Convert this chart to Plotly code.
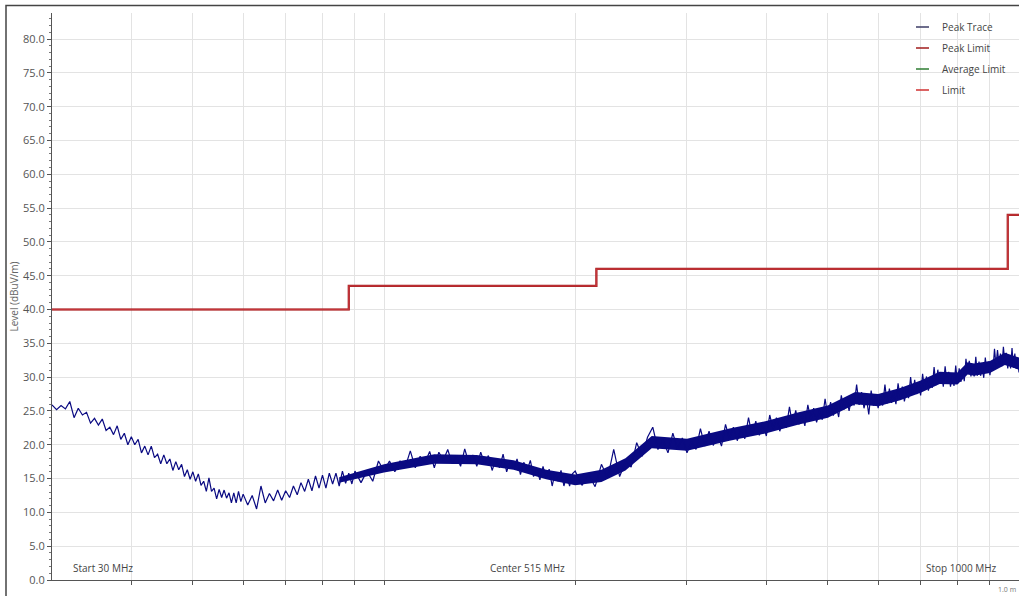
import math
import plotly.graph_objects as go

# ---------------- data ----------------
# sweep grid (MHz) of the peak trace
trace_freq_mhz = ([30 + 0.5 * i for i in range(60)] + list(range(60, 90))
                  + list(range(90, 200, 2)) + list(range(200, 1001, 5)))

trace_level_a = [  # 30.0..59.5 MHz, step 0.5
    25.9, 25.2, 25.8, 25.3, 26.4, 24.0, 25.4, 24.4, 24.8, 23.2,
    23.9, 22.9, 23.8, 22.1, 22.6, 21.5, 22.8, 20.8, 21.7, 20.0,
    21.2, 20.0, 20.8, 18.8, 19.8, 18.5, 19.8, 18.1, 18.6, 17.2,
    18.5, 17.2, 17.9, 16.2, 17.5, 16.3, 17.1, 15.3, 16.3, 14.9,
    16.0, 14.6, 15.7, 14.0, 14.6, 13.1, 15.1, 13.1, 13.6, 12.0,
    13.4, 12.2, 13.3, 12.1, 12.9, 11.4, 12.9, 11.4, 13.1, 11.6,
]
trace_level_b = [  # 60..89 MHz, step 1
    12.7, 11.1, 12.5, 10.5, 13.9, 11.4, 12.8, 11.7, 13.3, 11.8,
    13.2, 12.2, 13.9, 12.6, 14.4, 13.1, 14.9, 13.2, 15.4, 13.6,
    15.5, 13.6, 15.8, 14.2, 15.8, 13.9, 16.1, 14.3, 15.8, 14.2,
]
trace_level_c = [  # 90..198 MHz, step 2
    16.1, 14.4, 16.1, 14.6, 17.6, 16.1, 17.6, 16.0, 17.6, 16.7,
    19.1, 16.6, 18.3, 17.3, 19.0, 16.6, 18.9, 17.7, 19.3, 17.2,
    18.4, 16.8, 19.4, 17.3, 18.5, 16.8, 18.9, 17.2, 18.4, 16.2,
    17.9, 16.6, 18.6, 16.0, 17.6, 16.5, 17.9, 15.6, 17.4, 16.2,
    17.7, 15.3, 16.4, 14.8, 16.8, 15.0, 16.4, 13.9, 15.9, 14.6,
    16.2, 13.9, 15.5, 13.9, 15.7,
]
trace_level_d = [  # 200..1000 MHz, step 5
    16.1, 14.0, 15.6, 13.8, 17.1, 15.1, 19.3, 15.3, 17.5, 16.7,
    20.3, 18.3, 21.1, 22.6, 19.3, 20.7, 18.8, 21.7, 19.4, 21.0,
    18.8, 20.5, 19.3, 22.4, 19.8, 22.0, 19.9, 21.6, 19.8, 23.0,
    20.9, 22.6, 20.6, 22.3, 20.9, 24.0, 21.3, 23.5, 21.4, 23.1,
    21.3, 24.4, 22.3, 24.0, 22.0, 23.7, 22.5, 25.6, 22.9, 25.1,
    23.0, 24.6, 22.8, 25.9, 23.7, 25.4, 23.3, 25.0, 23.7, 26.8,
    24.1, 26.3, 24.3, 25.9, 24.1, 27.3, 25.2, 27.0, 25.0, 26.9,
    25.8, 28.9, 25.9, 27.8, 25.4, 26.9, 24.5, 28.0, 25.8, 27.5,
    25.4, 27.1, 25.8, 28.9, 26.1, 28.3, 26.2, 27.8, 26.0, 29.1,
    26.9, 28.6, 26.4, 28.2, 26.9, 30.0, 27.4, 29.6, 27.5, 29.1,
    27.3, 30.5, 28.3, 30.1, 28.0, 29.7, 28.4, 31.5, 28.8, 31.1,
    29.0, 30.5, 28.6, 31.6, 29.2, 30.8, 28.6, 30.1, 28.7, 31.7,
    29.0, 31.3, 29.3, 31.0, 29.4, 32.7, 30.7, 32.4, 30.1, 31.6,
    30.1, 33.0, 30.2, 32.3, 30.2, 31.7, 29.9, 32.9, 30.7, 32.3,
    30.3, 32.2, 31.0, 34.2, 31.7, 34.0, 31.9, 33.5, 31.6, 34.5,
    32.1, 33.6, 31.3, 32.8, 31.3, 34.3, 31.4, 33.5, 31.2, 32.7,
    30.7,
]
trace_level_dbuv = trace_level_a + trace_level_b + trace_level_c + trace_level_d

# dense core of the peak trace
band_freq_mhz = [85, 100, 120, 140, 160, 180, 200, 220, 240, 264, 300, 350, 400,
                 450, 500, 552, 600, 650, 700, 750, 800, 830, 850, 900, 950, 1000]
band_low_dbuv = [14.4, 15.9, 17.2, 17.1, 16.3, 14.9, 14.0, 14.5, 16.2, 19.5, 19.1,
                 20.6, 21.7, 23.0, 24.0, 26.0, 25.7, 26.6, 27.7, 29.0, 28.9, 30.4,
                 30.2, 30.6, 31.8, 31.1]
band_high_dbuv = [15.2, 17.1, 18.6, 18.5, 17.7, 16.3, 15.6, 16.3, 18.0, 21.3, 20.9,
                  22.4, 23.5, 24.8, 25.8, 27.8, 27.5, 28.4, 29.5, 30.8, 30.7, 32.2,
                  32.0, 32.4, 33.6, 32.9]

limit_freq_mhz = [30, 88, 216, 960, 1000]
limit_level_dbuv = [40.0, 43.5, 46.0, 54.0, 54.0]

legend_names = ["Peak Trace", "Peak Limit", "Average Limit", "Limit"]
legend_colors = ["#3c3c66", "#a01c1c", "#2e7d32", "#d03030"]

y_ticks = [0, 5, 10, 15, 20, 25, 30, 35, 40, 45, 50, 55, 60, 65, 70, 75, 80]
x_grid_mhz = [40, 50, 60, 70, 80, 90, 100, 200, 300, 400, 500, 600, 700, 800, 900]
bottom_labels = ["Start 30 MHz", "Center 515 MHz", "Stop 1000 MHz"]

# ---------------- figure ----------------
W, H = 1019, 596
L, R, T, B = 52, 0, 13, 16
PW, PH = W - L - R, H - T - B


def px(x):
    return (x - L) / PW


def py(y):
    return (H - B - y) / PH


navy = "#0a0a82"
fig = go.Figure()

fig.add_trace(go.Scatter(
    x=band_freq_mhz + band_freq_mhz[::-1],
    y=band_high_dbuv + band_low_dbuv[::-1],
    fill="toself", fillcolor=navy, line=dict(width=0),
    mode="lines", showlegend=False, hoverinfo="skip"))

fig.add_trace(go.Scatter(
    x=trace_freq_mhz, y=trace_level_dbuv, mode="lines", name="Peak Trace",
    line=dict(color=navy, width=1.2), showlegend=False))

fig.add_trace(go.Scatter(
    x=limit_freq_mhz, y=limit_level_dbuv, mode="lines", name="Peak Limit",
    line=dict(color="#a01c1c", width=2.2, shape="hv"), showlegend=False))
fig.add_trace(go.Scatter(
    x=[], y=[], mode="lines", name="Average Limit",
    line=dict(color="#2e7d32", width=1.5), showlegend=False))
fig.add_trace(go.Scatter(
    x=limit_freq_mhz, y=limit_level_dbuv, mode="lines", name="Limit",
    line=dict(color="#c4343a", width=1.4, shape="hv"), showlegend=False))

fig.update_xaxes(
    type="log", range=[math.log10(30), math.log10(1000)],
    tickvals=x_grid_mhz, showticklabels=False,
    ticks="outside", ticklen=4, tickcolor="#555",
    showgrid=True, gridcolor="#e3e3e3", gridwidth=1,
    showline=True, linecolor="#555", linewidth=1, zeroline=False)

fig.update_yaxes(
    range=[0, 83.85], tickvals=y_ticks,
    ticktext=[f"{v:.1f}" for v in y_ticks],
    ticks="outside", ticklen=4, tickcolor="#555",
    tickfont=dict(family="Open Sans", size=11, color="#555"),
    minor=dict(dtick=1, ticks="outside", ticklen=2, tickcolor="#777", showgrid=False),
    showgrid=True, gridcolor="#e3e3e3", gridwidth=1,
    showline=True, linecolor="#555", linewidth=1, zeroline=False,
    title=dict(text="Level (dBuV/m)", standoff=2,
               font=dict(family="Open Sans", size=10, color="#666")))

annotations = []
for text, cx in zip(bottom_labels, [103, 527, 961.5]):
    annotations.append(dict(
        x=px(cx), y=py(568), xref="paper", yref="paper", text=text,
        showarrow=False, xanchor="center", yanchor="middle",
        font=dict(family="Open Sans", size=10, color="#444")))
annotations.append(dict(
    x=px(1018), y=py(590), xref="paper", yref="paper", text="1.0 m",
    showarrow=False, xanchor="right", yanchor="middle",
    font=dict(family="Open Sans", size=7, color="#777")))

shapes = []
for name, col, ry in zip(legend_names, legend_colors, [27, 48, 69, 90]):
    shapes.append(dict(type="line", xref="paper", yref="paper",
                       x0=px(916), x1=px(929), y0=py(ry), y1=py(ry),
                       line=dict(color=col, width=1.5)))
    annotations.append(dict(
        x=px(940), y=py(ry), xref="paper", yref="paper", text=name,
        showarrow=False, xanchor="left", yanchor="middle",
        font=dict(family="Open Sans", size=10, color="#444")))

# outer window frame
shapes.append(dict(type="rect", xref="paper", yref="paper",
                   x0=px(6), x1=px(1040), y0=py(610), y1=py(5.5),
                   line=dict(color="#444", width=1.5), layer="below"))

fig.update_layout(
    width=W, height=H,
    margin=dict(l=L, r=R, t=T, b=B),
    paper_bgcolor="white", plot_bgcolor="white",
    showlegend=False,
    annotations=annotations, shapes=shapes,
    font=dict(family="Open Sans"))

fig.write_html(
    "out.html",
    config={"displayModeBar": False},
    post_script="document.body.style.margin='0';document.body.style.overflow='hidden';")
